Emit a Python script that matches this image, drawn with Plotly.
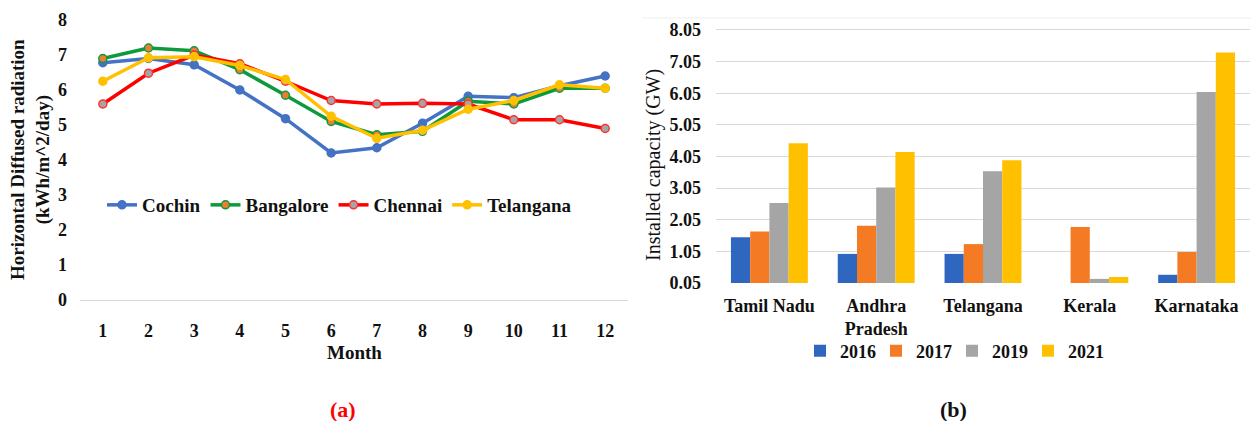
import plotly.graph_objects as go

# The page body adds an 8px margin; reference pixel coordinates are mapped accordingly.
OFF = 8
W, H = 1259 - OFF, 421 - OFF

months = list(range(1, 13))
cochin = [6.78, 6.9, 6.72, 6.0, 5.18, 4.2, 4.35, 5.05, 5.82, 5.78, 6.12, 6.4]
bangalore = [6.9, 7.2, 7.12, 6.58, 5.85, 5.1, 4.72, 4.82, 5.68, 5.6, 6.05, 6.05]
chennai = [5.6, 6.48, 7.0, 6.75, 6.25, 5.7, 5.6, 5.62, 5.6, 5.15, 5.15, 4.9]
telangana = [6.25, 6.92, 6.95, 6.7, 6.3, 5.25, 4.62, 4.85, 5.45, 5.7, 6.15, 6.05]

states = ["Tamil Nadu", "Andhra<br>Pradesh", "Telangana", "Kerala", "Karnataka"]
y2016 = [1.5, 0.97, 0.97, 0.0, 0.31]
y2017 = [1.68, 1.86, 1.28, 1.82, 1.03]
y2019 = [2.58, 3.07, 3.58, 0.18, 6.09]
y2021 = [4.47, 4.19, 3.93, 0.24, 7.34]
cap_ticks = [0.05, 1.05, 2.05, 3.05, 4.05, 5.05, 6.05, 7.05, 8.05]

def px(x):
    return (x - OFF) / W

def py(y):
    return 1 - (y - OFF) / H

SERIF = "Liberation Serif"
INK = "#111111"

fig = go.Figure()

line_series = [
    ("Cochin", cochin, "#4472C4", "#4472C4", "#4472C4"),
    ("Bangalore", bangalore, "#0E9A3C", "#ED7D31", "#0E9A3C"),
    ("Chennai", chennai, "#FF0000", "#A5A5A5", "#FF3030"),
    ("Telangana", telangana, "#FFC000", "#FFC000", "#FFC000"),
]
for name, vals, lc, mc, ml in line_series:
    fig.add_trace(go.Scatter(
        x=months, y=vals, name=name, mode="lines+markers",
        line=dict(color=lc, width=3.5),
        marker=dict(color=mc, size=8, line=dict(color=ml, width=1.5)),
        xaxis="x", yaxis="y", legend="legend",
    ))

bar_series = [
    ("2016", y2016, "#2F66C0"),
    ("2017", y2017, "#F47B24"),
    ("2019", y2019, "#A5A5A5"),
    ("2021", y2021, "#FFC000"),
]
for name, vals, c in bar_series:
    fig.add_trace(go.Bar(
        x=states, y=vals, name=name, marker=dict(color=c, line=dict(width=0)),
        xaxis="x2", yaxis="y2", legend="legend2",
    ))

tick_font = dict(family=SERIF, size=18, color=INK, weight="bold")

fig.update_layout(
    width=W, height=H,
    margin=dict(l=0, r=0, t=0, b=0, autoexpand=False),
    paper_bgcolor="white", plot_bgcolor="white",
    font=dict(family=SERIF, color=INK),
    barmode="group", bargap=0.28, bargroupgap=0,
    xaxis=dict(
        domain=[px(80), px(628)], range=[0.5, 12.5], automargin=False,
        tickvals=months, ticktext=[str(m) for m in months],
        showgrid=False, zeroline=False,
        showline=True, linecolor="#D9D9D9", linewidth=1,
        tickfont=tick_font, ticklabelstandoff=14, ticks="",
    ),
    yaxis=dict(
        domain=[py(300), py(20)], range=[0, 8], automargin=False,
        tickvals=list(range(0, 9)),
        showgrid=False, zeroline=False, showline=False,
        tickfont=tick_font, ticklabelstandoff=12, ticks="",
    ),
    xaxis2=dict(
        domain=[px(716), px(1250)], anchor="y2", automargin=False,
        showgrid=False, zeroline=False, showline=False,
        tickfont=tick_font, ticklabelstandoff=10, ticks="",
    ),
    yaxis2=dict(
        domain=[py(283), py(20)], anchor="x2", range=[0.05, 8.366], automargin=False,
        tickvals=cap_ticks, ticktext=[f"{v:.2f}" for v in cap_ticks],
        showgrid=True, gridcolor="#D9D9D9", gridwidth=1,
        zeroline=False, showline=False,
        tickfont=tick_font, ticklabelstandoff=14, ticks="",
    ),
    legend=dict(
        orientation="h", x=px(102), y=py(205), xanchor="left", yanchor="middle",
        font=dict(family=SERIF, size=19, color=INK, weight="bold"),
        bgcolor="rgba(0,0,0,0)", itemwidth=30,
    ),
    legend2=dict(
        orientation="h", x=px(952), y=py(351), xanchor="center", yanchor="middle",
        font=dict(family=SERIF, size=18, color=INK, weight="bold"),
        bgcolor="rgba(0,0,0,0)", itemwidth=30, entrywidth=31,
    ),
    shapes=[
        dict(type="line", xref="paper", yref="paper", x0=px(642), x1=px(1255),
             y0=py(18), y1=py(18), line=dict(color="#EFEFEF", width=1)),
    ],
    annotations=[
        dict(text="Horizontal Diffused radiation<br>(kWh/m^2/day)", x=px(30), y=py(160),
             xref="paper", yref="paper", xanchor="center", yanchor="middle",
             textangle=-90, showarrow=False,
             font=dict(family=SERIF, size=19, color=INK, weight="bold")),
        dict(text="Month", x=px(354), y=py(352), xref="paper", yref="paper",
             xanchor="center", yanchor="middle", showarrow=False,
             font=dict(family=SERIF, size=19, color=INK, weight="bold")),
        dict(text="Installed capacity (GW)", x=px(653), y=py(165), xref="paper", yref="paper",
             xanchor="center", yanchor="middle", textangle=-90, showarrow=False,
             font=dict(family=SERIF, size=20, color=INK)),
        dict(text="(a)", x=px(343), y=py(409), xref="paper", yref="paper",
             xanchor="center", yanchor="middle", showarrow=False,
             font=dict(family=SERIF, size=22, color="#FF0000", weight="bold")),
        dict(text="(b)", x=px(953), y=py(409), xref="paper", yref="paper",
             xanchor="center", yanchor="middle", showarrow=False,
             font=dict(family=SERIF, size=22, color=INK, weight="bold")),
    ],
)

fig.write_html("out.html")
